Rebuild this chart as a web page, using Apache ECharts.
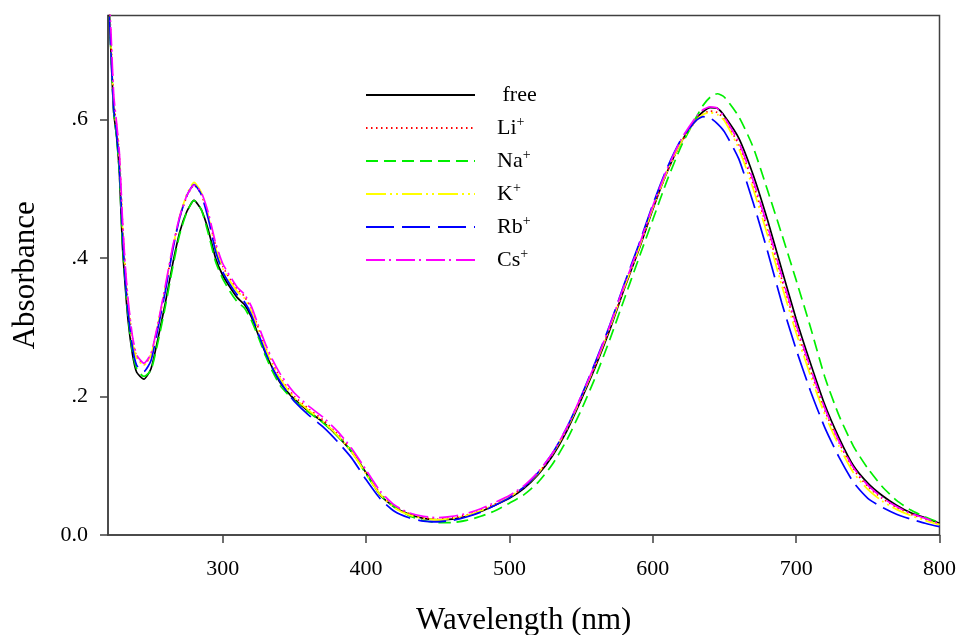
<!DOCTYPE html>
<html lang="en">
<head>
    <meta charset="UTF-8">
    <script src="https://cdn.jsdelivr.net/npm/echarts@6/dist/echarts.min.js"></script>
    <title>Absorbance</title>
    <style>
        html, body { margin: 0; padding: 0; background: #fff; }
        #main { width: 959px; height: 635px; }
    </style>
</head>
<body>
<div id="main"></div>

<script>
    // wavelength grid (nm)
    var wavelength = [220, 222, 224, 226, 228, 230, 232, 234, 237, 240,
        245, 250, 255, 260, 265, 270, 275, 280, 285, 290, 295, 300, 305, 310, 315, 320, 325, 330, 335, 340, 345,
        350, 360, 370, 380, 390, 400, 410, 420, 430, 440, 450, 460, 470, 480, 490, 500, 510, 520, 530, 540, 550, 560, 570, 580, 590, 600, 610, 620, 630,
        635, 640, 645,
        650, 660, 670, 680, 690, 700, 710, 720, 730, 740, 750, 760, 770, 780, 790, 800];

    var free = [0.80, 0.70, 0.61, 0.575, 0.52, 0.42, 0.36, 0.31, 0.262, 0.235,
        0.225, 0.24, 0.285, 0.335, 0.39, 0.437, 0.467, 0.483, 0.47, 0.44, 0.40, 0.375, 0.358, 0.343, 0.333, 0.315, 0.288, 0.262, 0.24, 0.22, 0.207,
        0.196, 0.178, 0.163, 0.143, 0.12, 0.09, 0.057, 0.040, 0.030, 0.024, 0.022, 0.023, 0.027, 0.034, 0.043, 0.053, 0.067, 0.087, 0.114, 0.150, 0.195, 0.243, 0.296, 0.355, 0.410, 0.470, 0.524, 0.568, 0.600,
        0.611, 0.617, 0.616,
        0.605, 0.573, 0.520, 0.455, 0.383, 0.312, 0.248, 0.188, 0.140, 0.100, 0.075, 0.057, 0.043, 0.032, 0.025, 0.017];

    var li = [0.81, 0.72, 0.625, 0.59, 0.545, 0.455, 0.385, 0.335, 0.284, 0.257,
        0.246, 0.26, 0.305, 0.357, 0.412, 0.458, 0.489, 0.505, 0.492, 0.46, 0.418, 0.388, 0.37, 0.355, 0.345, 0.326, 0.298, 0.27, 0.247, 0.228, 0.213,
        0.2, 0.182, 0.166, 0.146, 0.122, 0.09, 0.06, 0.041, 0.031, 0.025, 0.023, 0.025, 0.029, 0.036, 0.045, 0.055, 0.069, 0.089, 0.116, 0.152, 0.197, 0.245, 0.298, 0.356, 0.411, 0.471, 0.524, 0.567, 0.598,
        0.608, 0.612, 0.610,
        0.600, 0.563, 0.507, 0.441, 0.369, 0.300, 0.237, 0.180, 0.133, 0.095, 0.070, 0.053, 0.040, 0.030, 0.023, 0.016];

    var na = [0.80, 0.70, 0.61, 0.575, 0.52, 0.425, 0.365, 0.315, 0.265, 0.24,
        0.229, 0.238, 0.28, 0.33, 0.385, 0.434, 0.466, 0.483, 0.47, 0.435, 0.395, 0.37, 0.352, 0.337, 0.328, 0.31, 0.285, 0.258, 0.235, 0.216, 0.204,
        0.194, 0.177, 0.162, 0.143, 0.121, 0.088, 0.058, 0.040, 0.028, 0.021, 0.018, 0.018, 0.021, 0.027, 0.035, 0.046, 0.058, 0.076, 0.102, 0.137, 0.180, 0.228, 0.282, 0.340, 0.398, 0.455, 0.512, 0.562, 0.602,
        0.620, 0.632, 0.637,
        0.632, 0.604, 0.560, 0.498, 0.434, 0.368, 0.300, 0.228, 0.172, 0.128, 0.096, 0.070, 0.050, 0.036, 0.026, 0.018];

    var k = [0.80, 0.71, 0.62, 0.585, 0.54, 0.45, 0.38, 0.33, 0.28, 0.255,
        0.245, 0.26, 0.305, 0.357, 0.413, 0.46, 0.492, 0.509, 0.495, 0.46, 0.415, 0.385, 0.367, 0.352, 0.342, 0.323, 0.295, 0.268, 0.245, 0.226, 0.211,
        0.198, 0.18, 0.164, 0.144, 0.12, 0.088, 0.058, 0.039, 0.029, 0.024, 0.022, 0.024, 0.028, 0.035, 0.044, 0.055, 0.069, 0.089, 0.117, 0.153, 0.198, 0.246, 0.299, 0.357, 0.412, 0.472, 0.525, 0.568, 0.598,
        0.607, 0.610, 0.607,
        0.598, 0.558, 0.500, 0.433, 0.360, 0.292, 0.230, 0.174, 0.128, 0.090, 0.066, 0.049, 0.037, 0.028, 0.021, 0.015];

    var rb = [0.80, 0.70, 0.615, 0.58, 0.53, 0.44, 0.37, 0.322, 0.272, 0.245,
        0.236, 0.252, 0.3, 0.352, 0.41, 0.458, 0.49, 0.506, 0.492, 0.456, 0.41, 0.38, 0.362, 0.347, 0.337, 0.318, 0.29, 0.263, 0.24, 0.222, 0.206,
        0.193, 0.173, 0.156, 0.135, 0.111, 0.080, 0.052, 0.034, 0.025, 0.020, 0.019, 0.021, 0.026, 0.033, 0.043, 0.054, 0.069, 0.090, 0.118, 0.155, 0.200, 0.250, 0.303, 0.362, 0.418, 0.477, 0.530, 0.572, 0.598,
        0.604, 0.602, 0.594,
        0.582, 0.543, 0.480, 0.410, 0.335, 0.268, 0.208, 0.155, 0.112, 0.076, 0.053, 0.040, 0.030, 0.023, 0.017, 0.012];

    var cs = [0.82, 0.73, 0.635, 0.595, 0.55, 0.46, 0.39, 0.34, 0.288, 0.26,
        0.248, 0.262, 0.307, 0.36, 0.415, 0.46, 0.49, 0.505, 0.495, 0.465, 0.422, 0.392, 0.374, 0.358, 0.348, 0.33, 0.302, 0.275, 0.252, 0.233, 0.218,
        0.205, 0.186, 0.170, 0.150, 0.125, 0.094, 0.063, 0.043, 0.032, 0.027, 0.025, 0.027, 0.031, 0.038, 0.047, 0.057, 0.071, 0.091, 0.118, 0.155, 0.200, 0.248, 0.302, 0.360, 0.415, 0.475, 0.528, 0.572, 0.603,
        0.614, 0.618, 0.616,
        0.603, 0.567, 0.512, 0.446, 0.374, 0.304, 0.241, 0.183, 0.135, 0.097, 0.072, 0.054, 0.041, 0.031, 0.024, 0.016];

    var xTicks = [300, 400, 500, 600, 700, 800];
    var yTicks = [0, 0.2, 0.4, 0.6];

    var names = ['free', 'Li+', 'Na+', 'K+', 'Rb+', 'Cs+'];
    var values = [free, li, na, k, rb, cs];
    var colors = ['#000000', '#ff0000', '#00ee00', '#ffff00', '#0000ff', '#ff00ff'];
    var dashes = ['solid', [1.5, 3.5], [12, 6], [20, 4, 2, 4, 2, 4], [28, 8], [19, 4, 2, 5]];

    var series = names.map(function (name, i) {
        return {
            name: name,
            type: 'line',
            symbol: 'none',
            smooth: 0.2,
            data: wavelength.map(function (w, j) { return [w, values[i][j]]; }),
            lineStyle: { color: colors[i], width: 1.7, type: dashes[i] },
            itemStyle: { color: colors[i] }
        };
    });

    var myChart = echarts.init(document.getElementById('main'));

    var axisColor = '#404040';
    var serif = 'Liberation Serif, Times New Roman, serif';

    var option = {
        animation: false,
        backgroundColor: '#ffffff',
        grid: {
            left: 108, right: 19.5, top: 15.5, bottom: 100,
            outerBoundsMode: 'none',
            containLabel: false,
            show: true, borderColor: axisColor, borderWidth: 1.5
        },
        legend: {
            orient: 'vertical',
            left: 360,
            top: 79,
            itemWidth: 109,
            itemHeight: 14,
            itemGap: 9,
            data: names,
            itemStyle: { opacity: 0 },
            formatter: function (name) {
                if (name === 'free') return '{g|}{b| free}';
                return '{g|}{b|' + name.slice(0, -1) + '}{s|+}';
            },
            textStyle: {
                fontFamily: serif,
                fontSize: 22,
                color: '#000',
                lineHeight: 22,
                rich: {
                    g: { width: 17 },
                    b: { fontFamily: serif, fontSize: 22, color: '#000' },
                    s: { fontFamily: serif, fontSize: 14, color: '#000', padding: [0, 0, 12, 0] }
                }
            }
        },
        xAxis: {
            type: 'value',
            min: 220,
            max: 800,
            name: 'Wavelength (nm)',
            nameLocation: 'middle',
            nameGap: 70,
            nameTextStyle: { fontFamily: serif, fontSize: 31, color: '#000' },
            splitLine: { show: false },
            axisLine: { show: true, lineStyle: { color: axisColor, width: 1.5 } },
            axisTick: { show: true, length: 8, customValues: xTicks, lineStyle: { color: axisColor, width: 1.5 } },
            axisLabel: {
                customValues: xTicks,
                margin: 23,
                fontFamily: serif, fontSize: 22, color: '#000'
            }
        },
        yAxis: {
            type: 'value',
            min: 0,
            max: 0.75,
            name: 'Absorbance',
            nameLocation: 'middle',
            nameGap: 67,
            nameTextStyle: { fontFamily: serif, fontSize: 31, color: '#000' },
            splitLine: { show: false },
            axisLine: { show: true, lineStyle: { color: axisColor, width: 1.5 } },
            axisTick: { show: true, length: 8, customValues: yTicks, lineStyle: { color: axisColor, width: 1.5 } },
            axisLabel: {
                customValues: yTicks,
                margin: 20,
                fontFamily: serif, fontSize: 22, color: '#000',
                formatter: function (v) {
                    if (v === 0) return '0.0';
                    return v.toFixed(1).replace(/^0/, '');
                }
            }
        },
        series: series
    };

    myChart.setOption(option);
</script>
</body>
</html>
